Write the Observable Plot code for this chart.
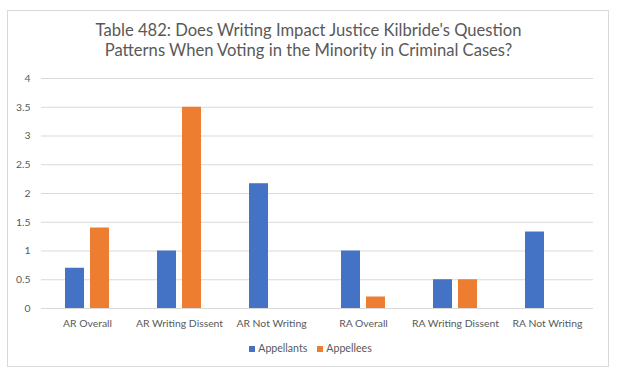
<!DOCTYPE html>
<html>
<head>
<meta charset="utf-8">
<script src="https://cdn.jsdelivr.net/npm/d3@7"></script>
<script src="https://cdn.jsdelivr.net/npm/@observablehq/plot@0.6"></script>
<style>
  html, body { margin: 0; padding: 0; background: #fff; }
  body { width: 620px; height: 379px; position: relative; overflow: hidden; font-family: Lato, "Open Sans", sans-serif; }
  #frame { position: absolute; left: 7px; top: 10px; width: 602px; height: 357px; border: 1px solid #d9d9d9; box-sizing: border-box; }
  #title { position: absolute; left: 0; top: 20px; width: 617px; text-align: center; font-size: 16.6px; line-height: 20px; color: #595959; }
  #chart { position: absolute; left: 0; top: 65px; }
  #legend { position: absolute; left: 0; top: 342px; width: 621px; text-align: center; font-size: 10.6px; color: #595959; }
  #legend span.sw { display: inline-block; width: 6px; height: 6px; margin-right: 3px; vertical-align: 0px; }
  #legend span.item { margin: 0 5px; }
</style>
</head>
<body>
<div id="frame"></div>
<div id="title">Table 482: Does Writing Impact Justice Kilbride's Question<br>Patterns When Voting in the Minority in Criminal Cases?</div>
<div id="chart"></div>
<div id="legend"></div>
<script>
const categories = ["AR Overall", "AR Writing Dissent", "AR Not Writing", "RA Overall", "RA Writing Dissent", "RA Not Writing"];
const seriesNames = ["Appellants", "Appellees"];
const appellants = [0.7, 1, 2.17, 1, 0.5, 1.33];
const appellees = [1.4, 3.5, 0, 0.2, 0.5, 0];
const yTicks = [0, 0.5, 1, 1.5, 2, 2.5, 3, 3.5, 4];
const colors = ["#4472C4", "#ED7D31"];

const data = [];
categories.forEach((c, i) => {
  data.push({category: c, series: seriesNames[0], value: appellants[i]});
  data.push({category: c, series: seriesNames[1], value: appellees[i]});
});

const chart = Plot.plot({
  width: 620,
  height: 268,
  marginTop: 13,
  marginBottom: 25,
  marginLeft: 41,
  marginRight: 27,
  style: {fontFamily: "Lato, 'Open Sans', sans-serif", fontSize: "10.4px", color: "#595959", background: "transparent"},
  fx: {domain: categories, padding: 0, label: null, axis: "bottom", tickSize: 0, tickPadding: 11},
  x: {domain: seriesNames, paddingInner: 0.23, paddingOuter: 0.885, axis: null},
  y: {domain: [0, 4], ticks: yTicks, tickFormat: d => String(d), tickSize: 0, tickPadding: 11, label: null},
  color: {domain: seriesNames, range: colors},
  marks: [
    Plot.gridY(yTicks, {stroke: "#d9d9d9", strokeOpacity: 1}),
    Plot.barY(data, {fx: "category", x: "series", y: "value", fill: "series"}),
    Plot.ruleY([0], {stroke: "#d9d9d9", strokeOpacity: 1})
  ]
});
document.getElementById("chart").appendChild(chart);

const legend = document.getElementById("legend");
legend.innerHTML = seriesNames.map((s, i) =>
  `<span class="item"><span class="sw" style="background:${colors[i]}"></span>${s}</span>`).join("");
</script>
</body>
</html>
